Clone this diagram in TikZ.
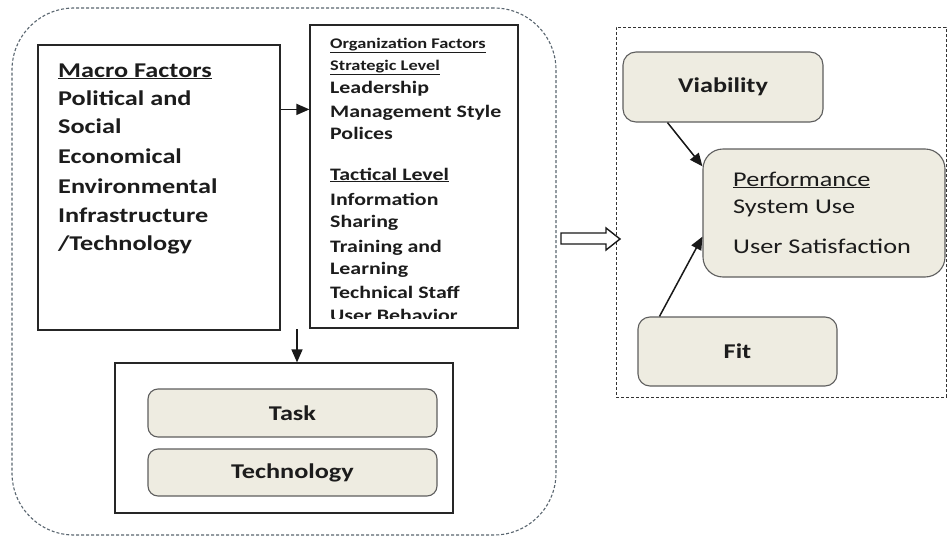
\documentclass[tikz,border=0pt]{standalone}
\usepackage{fontspec}
\setmainfont[FakeStretch=1.25]{Carlito}
\usetikzlibrary{arrows.meta,calc}
\definecolor{boxfill}{HTML}{EEECE1}
\definecolor{edgegray}{HTML}{5E5E5E}
\definecolor{dashgray}{HTML}{5A6670}
\definecolor{txt}{HTML}{1C1C1C}
\tikzset{
  plainbox/.style={draw=black!85, line width=1.2pt, inner sep=0pt},
  softbox/.style={draw=edgegray, fill=boxfill, line width=1.1pt, rounded corners=10pt, inner sep=0pt, text=txt, font=\fontsize{21}{25}\selectfont\bfseries},
  mtxt/.style={anchor=base west, inner sep=0pt, text=txt, font=\fontsize{21}{25}\selectfont\bfseries},
  otxt/.style={anchor=base west, inner sep=0pt, text=txt, font=\fontsize{17.5}{21}\selectfont\bfseries},
  htxt/.style={anchor=base west, inner sep=0pt, text=txt, font=\fontsize{14.7}{18}\selectfont\bfseries},
  ptxt/.style={anchor=base west, inner sep=0pt, text=txt, font=\fontsize{21}{25}\selectfont},
  arr/.style={-{Triangle[length=13pt,width=11pt]}, line width=1.5pt, black!90}
}
\begin{document}
\begin{tikzpicture}[x=1pt,y=-1pt]
\useasboundingbox (0,0) rectangle (948,538);
\fill[white] (0,0) rectangle (948,538);
% outer dashed container
\node[draw=dashgray, dash pattern=on 3pt off 2pt, line width=1.1pt, rounded corners=62pt, minimum width=544pt, minimum height=527pt, inner sep=0pt] (outer) at (284,271.5) {};
% right dashed container
\node[draw=black!80, dash pattern=on 3pt off 2pt, line width=0.9pt, minimum width=330pt, minimum height=370pt, inner sep=0pt] (right) at (781,212) {};
% macro box
\node[plainbox, minimum width=242pt, minimum height=285pt] (macro) at (159,187.5) {};
\node[mtxt] (m1) at (58,77) {\underline{Macro Factors}};
\node[mtxt] (m2) at (58,105) {Political and};
\node[mtxt] (m3) at (58,133) {Social};
\node[mtxt] (m4) at (58,163) {Economical};
\node[mtxt] (m5) at (58,193) {Environmental};
\node[mtxt] (m6) at (58,222) {Infrastructure};
\node[mtxt] (m7) at (58,250) {/Technology};
% organization box
\node[plainbox, minimum width=208pt, minimum height=303pt] (org) at (414,176.5) {};
\node[htxt] (o1) at (330,48) {\underline{Organization Factors}};
\node[htxt] (o2) at (330,70) {\underline{Strategic Level}};
\node[otxt] (o3) at (330,93) {Leadership};
\node[otxt] (o4) at (330,117) {Management Style};
\node[otxt] (o5) at (330,139) {Polices};
\node[otxt] (o6) at (330,180) {\underline{Tactical Level}};
\node[otxt] (o7) at (330,205) {Information};
\node[otxt] (o8) at (330,227) {Sharing};
\node[otxt] (o9) at (330,252) {Training and};
\node[otxt] (o10) at (330,274) {Learning};
\node[otxt] (o11) at (330,298) {Technical Staff};
\begin{scope}
\clip (311,25) rectangle (517,318);
\node[otxt] (o12) at (330,321) {User Behavior};
\end{scope}
% task/technology container
\node[plainbox, minimum width=338pt, minimum height=150pt] (tt) at (284,438) {};
\node[softbox, minimum width=289pt, minimum height=48pt] (task) at (292.5,413) {Task};
\node[softbox, minimum width=289pt, minimum height=47pt] (tech) at (292.5,472.5) {Technology};
% right side boxes
\node[softbox, rounded corners=13pt, minimum width=200pt, minimum height=70pt] (vi) at (723,87) {Viability};
\node[softbox, rounded corners=20pt, minimum width=242pt, minimum height=128pt] (perf) at (824,213) {};
\node[ptxt] (p1) at (733,186) {\underline{Performance}};
\node[ptxt] (p2) at (733,213) {System Use};
\node[ptxt] (p3) at (733,253) {User Satisfaction};
\node[softbox, rounded corners=12pt, minimum width=199pt, minimum height=69pt] (fit) at (737.5,351.5) {Fit};
% connectors
\draw[arr] ($(macro.north east)+(0,65)$) -- ($(org.north west)+(0,85)$);
\coordinate (dstart) at (297,329);
\draw[arr] (dstart) -- (dstart |- tt.north);
\draw[arr] ($(vi.south west)+(45,0)$) -- (perf.159);
\draw[arr] ($(fit.north west)+(22,0)$) -- (perf.191);
% hollow block arrow
\draw[black!90, line width=1.4pt, fill=white, line join=miter]
  (561,233) -- (606,233) -- (606,228) -- (620,239) -- (606,250) -- (606,244) -- (561,244) -- cycle;
\end{tikzpicture}
\end{document}
